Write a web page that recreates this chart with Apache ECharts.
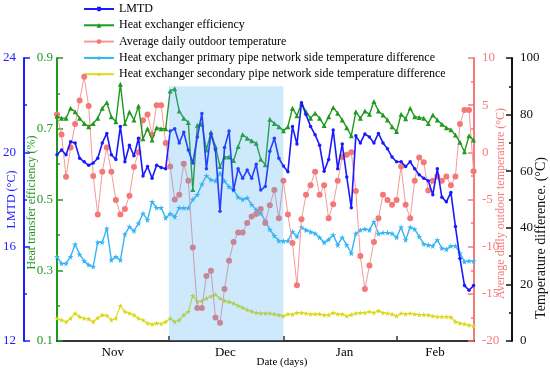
<!DOCTYPE html>
<html>
<head>
<meta charset="utf-8">
<script src="https://cdn.jsdelivr.net/npm/echarts@6/dist/echarts.min.js"></script>
<style>
html,body{margin:0;padding:0;background:#fff;}
#chart{width:550px;height:373px;}
</style>
</head>
<body>
<div id="chart"></div>
<script>
// ---- data ----
const monthLabels = ['Nov', 'Dec', 'Jan', 'Feb'];
const monthLabelPos = [12.3, 37.2, 63.5, 83.5];
const monthBounds = [24.7, 50, 75.1];
const shadeRange = [24.7, 50];

const lmtd = [19.9,20.1,19.9,20.45,20.4,19.75,19.6,19.45,19.55,19.75,
  20.4,20.8,19.9,19.7,21.1,19.6,20.3,19.85,20.6,19.0,
  19.4,18.9,19.45,19.36,19.3,20.9,21.0,20.4,20.85,20.1,
  19.55,20.65,21.65,19.3,20.8,20.1,17.5,20.2,20.9,18.4,
  19.3,18.9,19.25,18.9,19.5,18.4,18.55,20.05,20.6,19.75,
  19.42,19.18,21.1,20.35,22.1,21.6,21.1,20.75,20.3,19.2,
  19.7,20.95,19.3,20.35,18.95,17.65,20.7,20.4,20.78,20.65,
  20.4,20.8,20.4,20.15,19.8,19.6,19.6,19.4,19.6,19.3,
  19.05,18.9,18.8,18.2,19.3,18.1,17.9,18.3,16.85,15.5,
  14.35,14.15,14.35];

const efficiency = [0.735,0.73,0.73,0.758,0.748,0.73,0.715,0.706,0.715,0.73,
  0.758,0.774,0.734,0.72,0.826,0.715,0.747,0.725,0.764,0.672,
  0.70,0.668,0.703,0.70,0.70,0.807,0.813,0.75,0.73,0.718,
  0.528,0.71,0.713,0.64,0.69,0.65,0.593,0.62,0.62,0.61,
  0.65,0.684,0.673,0.666,0.659,0.614,0.598,0.727,0.715,0.706,
  0.694,0.706,0.758,0.737,0.772,0.748,0.73,0.744,0.73,0.709,
  0.734,0.76,0.744,0.725,0.703,0.68,0.748,0.73,0.75,0.741,
  0.777,0.75,0.739,0.725,0.706,0.692,0.741,0.728,0.758,0.734,
  0.732,0.73,0.715,0.739,0.725,0.713,0.703,0.697,0.682,0.662,
  0.635,0.68,0.668];

const outdoorTemp = [4.0,1.9,-2.6,0.5,3.0,5.5,8.0,4.9,-2.5,-6.6,
  -2.05,0.5,-2.05,-5.06,-6.6,-6.0,-4.6,-1.56,0.0,3.4,
  4.0,1.9,5.0,5.0,1.0,-1.5,-5.0,-4.5,-1.2,-3.0,
  -10.1,-16.5,-16.5,-13.1,-12.55,-17.5,-18.07,-14.5,-11.5,-9.5,
  -8.5,-8.5,-7.5,-6.8,-6.55,-6.0,-7.5,-5.6,-4.0,-7.0,
  -3.0,-6.6,-9.6,-14.1,-7.1,-4.5,-3.5,-2.05,-4.5,-3.5,
  -7.0,-5.5,-3.0,-0.5,-0.25,0.0,-4.1,-11.0,-14.5,-12.0,
  -9.5,-7.0,-4.5,-5.05,-5.55,-5.05,-1.5,-5.55,-7.0,-3.0,
  -0.55,-1.05,-4.05,-3.0,-2.55,-3.0,-2.55,-3.5,-2.55,3.0,
  4.5,4.5,-2.0];

const primaryDiff = [29.8,27.4,27.4,29.8,34.2,30.6,28.3,26.9,26.3,34.9,
  34.9,39.8,28.6,29.8,28.6,37.7,40.4,38.9,41.6,45.1,
  42.8,49.2,47.1,47.1,43.5,45.0,43.9,47.1,47.0,47.0,
  50.0,51.7,55.4,58.4,57.0,56.6,59.3,56.5,54.5,53.4,
  50.8,50.0,50.6,48.2,46.4,45.1,42.5,39.4,37.2,35.4,
  35.3,35.4,38.6,36.9,40.2,39.2,38.6,38.0,36.6,34.8,
  35.9,37.5,33.9,36.6,33.9,31.0,38.0,39.2,39.6,39.2,
  42.2,37.9,38.3,38.3,38.0,36.6,40.2,35.7,40.2,39.5,
  36.9,34.3,33.9,33.6,35.7,32.8,32.4,33.6,33.6,31.0,
  28.0,28.3,28.3];

const secondaryDiff = [8.0,7.4,6.8,8.0,9.8,8.6,8.0,7.8,6.8,8.2,
  9.2,9.0,7.4,8.0,12.5,10.4,9.8,9.2,8.0,7.4,
  6.3,5.9,6.3,6.1,6.8,8.0,6.8,7.4,9.2,10.4,
  16.0,13.9,14.2,15.1,15.8,16.4,15.1,14.2,13.9,13.3,
  12.5,11.8,11.0,10.5,10.0,9.8,9.8,9.8,9.5,9.2,
  8.8,9.5,9.4,10.0,10.0,9.8,9.5,9.5,9.5,9.2,
  9.2,10.0,9.5,9.5,8.8,9.3,9.8,10.0,10.0,10.4,
  10.0,10.7,10.0,9.8,9.5,8.8,9.8,9.5,9.8,9.5,
  9.3,9.3,9.2,8.8,8.6,8.6,8.6,8.4,6.8,6.3,
  6.0,5.6,5.3];

const seriesNames = ['LMTD', 'Heat exchanger efficiency', 'Average daily outdoor temperature',
  'Heat exchanger primary pipe network side temperature difference',
  'Heat exchanger secondary pipe network side temperature difference'];

// ---- chart ----
const FONT = 'Liberation Serif';
const STAR = 'path://M50,0 L61,35 L98,35 L68,57 L79,91 L50,70 L21,91 L32,57 L2,35 L39,35 Z';
const toXY = arr => arr.map((v, i) => [i, v]);

function yAx(opts) {
  return Object.assign({
    type: 'value',
    splitLine: { show: false },
    axisLine: { show: true, onZero: false, lineStyle: { color: opts.color, width: 2 } },
    axisTick: { show: true, inside: true, length: 6, lineStyle: { color: opts.color, width: 1.5 } },
    minorTick: { show: true, splitNumber: 2, length: 3, lineStyle: { color: opts.color, width: 1.5 } },
    axisLabel: { color: opts.color, fontFamily: FONT, fontSize: 13, margin: opts.labelMargin },
    nameLocation: 'middle',
    nameRotate: 90,
    nameMoveOverlap: false,
    nameTextStyle: { color: opts.color, fontFamily: FONT, fontSize: opts.nameSize || 12, padding: opts.namePad || 0 }
  }, opts.extra);
}

const chart = echarts.init(document.getElementById('chart'), null, { renderer: 'canvas' });
chart.setOption({
  animation: false,
  backgroundColor: '#fff',
  grid: { left: 57, right: 76, top: 58, bottom: 32, outerBoundsMode: 'none' },
  legend: {
    orient: 'vertical', left: 83, top: 3, padding: 0,
    itemWidth: 30, itemHeight: 6, itemGap: 4.3,
    data: seriesNames,
    textStyle: { fontFamily: FONT, fontSize: 12, color: '#000' }
  },
  xAxis: {
    type: 'value', min: 0, max: 92.1,
    splitLine: { show: false },
    axisLine: { onZero: false, lineStyle: { color: '#333', width: 2 } },
    axisTick: { show: true, inside: true, length: 5, customValues: monthBounds, lineStyle: { color: '#333', width: 1.5 } },
    axisLabel: {
      customValues: monthLabelPos, fontFamily: FONT, fontSize: 13, color: '#000', margin: 5,
      formatter: function (v) {
        let best = 0;
        monthLabelPos.forEach((p, i) => { if (Math.abs(p - v) < Math.abs(monthLabelPos[best] - v)) best = i; });
        return monthLabels[best];
      }
    },
    name: 'Date (days)', nameLocation: 'middle', nameGap: 16, nameMoveOverlap: false,
    nameTextStyle: { fontFamily: FONT, fontSize: 11, color: '#000', padding: [0, 0, 0, 33] }
  },
  yAxis: [
    yAx({ color: '#1e1eff', labelMargin: 8, extra: { name: 'LMTD (°C)', nameGap: 6, position: 'left', offset: 33, min: 12, max: 24, interval: 4 } }),
    yAx({ color: '#1f9a1f', labelMargin: 4, namePad: [0, 6, 0, 0], extra: { name: 'Heat transfer efficiency (%)', nameGap: 19, position: 'left', offset: 0, min: 0.1, max: 0.9, interval: 0.2,
      axisLabel: { color: '#1f9a1f', fontFamily: FONT, fontSize: 13, margin: 4, formatter: v => v.toFixed(1) } } }),
    yAx({ color: '#f77a7a', labelMargin: 8, namePad: [0, 8, 0, 0], extra: { name: 'Average daily outdoor temperature (°C)', nameGap: 21, position: 'right', offset: 0, min: -20, max: 10, interval: 5 } }),
    yAx({ color: '#111', labelMargin: 8, nameSize: 14, namePad: [0, 77, 0, 0], extra: { name: 'Temperature difference. (°C)', nameGap: 22, position: 'right', offset: 38, min: 0, max: 100, interval: 20 } })
  ],
  series: [
    {
      name: seriesNames[0], type: 'line', yAxisIndex: 0, data: toXY(lmtd),
      symbol: 'circle', symbolSize: 3.5, z: 6,
      lineStyle: { color: '#1a1aff', width: 1.6 }, itemStyle: { color: '#1a1aff' }
    },
    {
      name: seriesNames[1], type: 'line', yAxisIndex: 1, data: toXY(efficiency),
      symbol: 'triangle', symbolSize: 5, z: 5,
      lineStyle: { color: '#1f9a1f', width: 1.4 }, itemStyle: { color: '#1f9a1f' }
    },
    {
      name: seriesNames[2], type: 'line', yAxisIndex: 2, data: toXY(outdoorTemp),
      symbol: 'circle', symbolSize: 6, z: 4,
      lineStyle: { color: '#f79a9a', width: 1 }, itemStyle: { color: '#f47878' }
    },
    {
      name: seriesNames[3], type: 'line', yAxisIndex: 3, data: toXY(primaryDiff),
      symbol: STAR, symbolSize: 6, z: 3,
      lineStyle: { color: '#36b4f5', width: 1.4 }, itemStyle: { color: '#36b4f5' }
    },
    {
      name: seriesNames[4], type: 'line', yAxisIndex: 3, data: toXY(secondaryDiff),
      symbol: STAR, symbolSize: 5.5, z: 3,
      lineStyle: { color: '#dcdc1c', width: 1.2 }, itemStyle: { color: '#d8d818' }
    },
    {
      name: 'shade', type: 'line', yAxisIndex: 3, data: [], z: 10, silent: true,
      markArea: {
        silent: true, z: 20,
        itemStyle: { color: 'rgba(70,172,240,0.27)' },
        data: [[{ xAxis: shadeRange[0], yAxis: 0 }, { xAxis: shadeRange[1], yAxis: 90 }]]
      }
    }
  ]
});
</script>
</body>
</html>
